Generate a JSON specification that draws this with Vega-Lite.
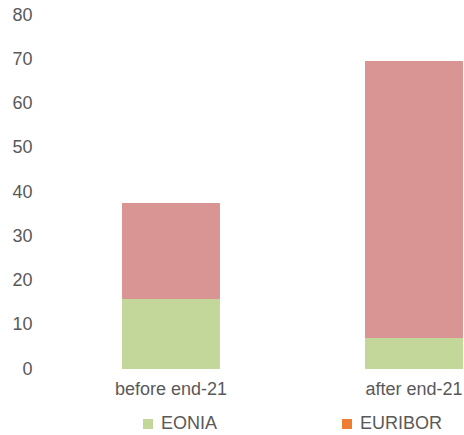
{
  "$schema": "https://vega.github.io/schema/vega-lite/v6.json",
  "autosize": "none",
  "width": 414,
  "height": 354,
  "padding": {"left": 50, "top": 15, "right": 0, "bottom": 66},
  "background": "white",
  "config": {
    "view": {"stroke": null},
    "font": "Liberation Sans"
  },
  "layer": [
    {
      "data": {
        "values": [
          {"period": "before end-21", "series": "EONIA", "value": 15.8},
          {"period": "before end-21", "series": "EURIBOR", "value": 21.7},
          {"period": "after end-21", "series": "EONIA", "value": 7.0},
          {"period": "after end-21", "series": "EURIBOR", "value": 62.6}
        ]
      },
      "mark": {"type": "bar"},
      "encoding": {
        "x": {
          "field": "period",
          "type": "nominal",
          "sort": ["before end-21", "after end-21"],
          "scale": {"paddingInner": 0.5967, "paddingOuter": 0.1502, "align": 0.986},
          "axis": {
            "title": null,
            "labelAngle": 0,
            "domain": false,
            "ticks": false,
            "tickSize": 0,
            "labelPadding": 11,
            "labelFont": "Liberation Sans",
            "labelFontSize": 18,
            "labelColor": "#595959"
          }
        },
        "y": {
          "field": "value",
          "type": "quantitative",
          "stack": "zero",
          "scale": {"domain": [0, 80], "nice": false},
          "axis": {
            "title": null,
            "values": [0, 10, 20, 30, 40, 50, 60, 70, 80],
            "grid": false,
            "domain": false,
            "ticks": false,
            "tickSize": 0,
            "labelPadding": 18,
            "labelFont": "Liberation Sans",
            "labelFontSize": 18,
            "labelColor": "#595959"
          }
        },
        "color": {
          "field": "series",
          "type": "nominal",
          "scale": {"domain": ["EONIA", "EURIBOR"], "range": ["#C4D79B", "#D99594"]},
          "legend": null
        },
        "order": {"field": "series", "sort": "ascending"}
      }
    },
    {
      "data": {
        "values": [
          {"legendName": "EONIA"},
          {"legendName": "EURIBOR"}
        ]
      },
      "mark": {"type": "bar", "strokeWidth": 0},
      "encoding": {
        "y": {"datum": 0},
        "y2": {"datum": 0},
        "fill": {
          "field": "legendName",
          "type": "nominal",
          "scale": {"range": ["#C4D79B", "#ED7D31"]},
          "legend": {
            "title": null,
            "orient": "none",
            "legendX": 89,
            "legendY": 400,
            "direction": "horizontal",
            "columns": 2,
            "columnPadding": 120,
            "padding": 0,
            "symbolType": "square",
            "symbolSize": 100,
            "symbolStrokeWidth": 0,
            "labelOffset": 4,
            "labelFont": "Liberation Sans",
            "labelFontSize": 18,
            "labelColor": "#595959"
          }
        }
      }
    }
  ]
}
